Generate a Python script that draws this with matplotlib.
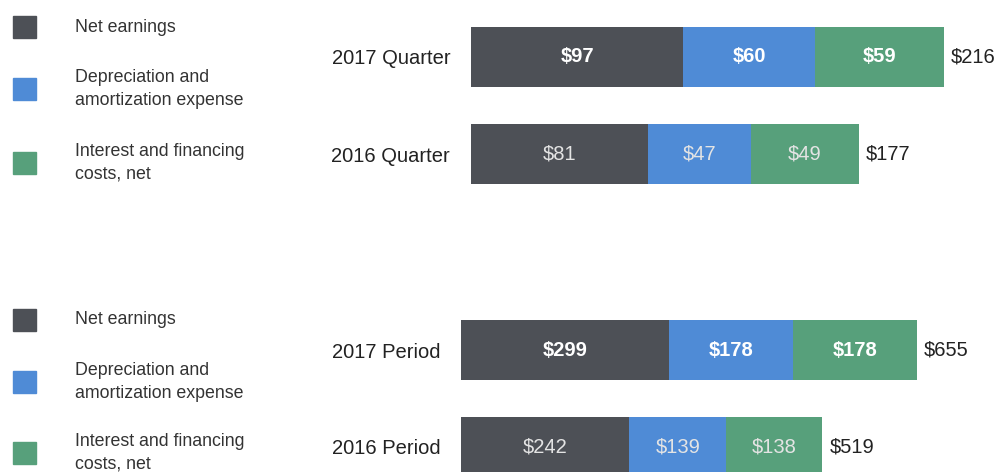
import matplotlib.pyplot as plt
from matplotlib.patches import Rectangle

plt.rcParams['font.family'] = ['Liberation Sans', 'DejaVu Sans']

# data
legend_labels = ['Net earnings', 'Depreciation and\namortization expense',
                 'Interest and financing\ncosts, net']
colors = ['#4d5056', '#4f8bd6', '#57a07b']

quarter_cats = ['2017 Quarter', '2016 Quarter']
quarter_net = [97, 81]
quarter_dep = [60, 47]
quarter_int = [59, 49]
quarter_tot = [216, 177]

period_cats = ['2017 Period', '2016 Period']
period_net = [299, 242]
period_dep = [178, 139]
period_int = [178, 138]
period_tot = [655, 519]

W, H = 1002, 472
fig = plt.figure(figsize=(W / 100, H / 100), dpi=100)
fig.patch.set_facecolor('white')


def px_ax(x0, y0, x1, y1):
    # axes from pixel box (top-left origin)
    return fig.add_axes([x0 / W, 1 - y1 / H, (x1 - x0) / W, (y1 - y0) / H])


def legend_block(y_centers):
    for lab, col, yc in zip(legend_labels, colors, y_centers):
        fig.add_artist(Rectangle((13 / W, 1 - (yc + 11) / H), 23 / W, 22 / H,
                                 transform=fig.transFigure, color=col))
        fig.text(75 / W, 1 - yc / H, lab, fontsize=12.8, color='#333333',
                 va='center', ha='left', linespacing=1.4)


def bar_panel(ax, cats, parts, totals, scale_px, ax_w):
    ax.set_xlim(0, ax_w / scale_px)
    ax.set_ylim(1.5, -0.5)
    ypos = list(range(len(cats)))
    left = [0] * len(cats)
    for vals, col in zip(parts, colors):
        ax.barh(ypos, vals, left=left, height=0.62, color=col)
        for i, v in enumerate(vals):
            bold = i == 0
            ax.text(left[i] + v / 2, ypos[i], f'${v}', ha='center', va='center',
                    color='white' if bold else '#e4e4e4', fontsize=14.5,
                    fontweight='bold' if bold else 'normal')
        left = [l + v for l, v in zip(left, vals)]
    for i, t in enumerate(totals):
        ax.text(t + 7 / scale_px, ypos[i], f'${t}',
                ha='left', va='center', color='#222222', fontsize=14.5)
    ax.set_yticks(ypos)
    ax.set_yticklabels(cats, fontsize=14.5, color='#222222')
    ax.tick_params(axis='y', length=0, pad=15)
    ax.set_xticks([])
    for s in ax.spines.values():
        s.set_visible(False)
    ax.patch.set_alpha(0)


# quarter panel
ax1 = px_ax(471, 8.5, 1002, 202.5)
bar_panel(ax1, quarter_cats, [quarter_net, quarter_dep, quarter_int],
          quarter_tot, 473 / 216, 1002 - 471)
legend_block([27, 89, 163])

# period panel
ax2 = px_ax(461, 301.5, 1002, 495.5)
bar_panel(ax2, period_cats, [period_net, period_dep, period_int],
          period_tot, 456 / 655, 1002 - 461)
legend_block([320, 382, 453])

fig.savefig('out.png', dpi=100)
